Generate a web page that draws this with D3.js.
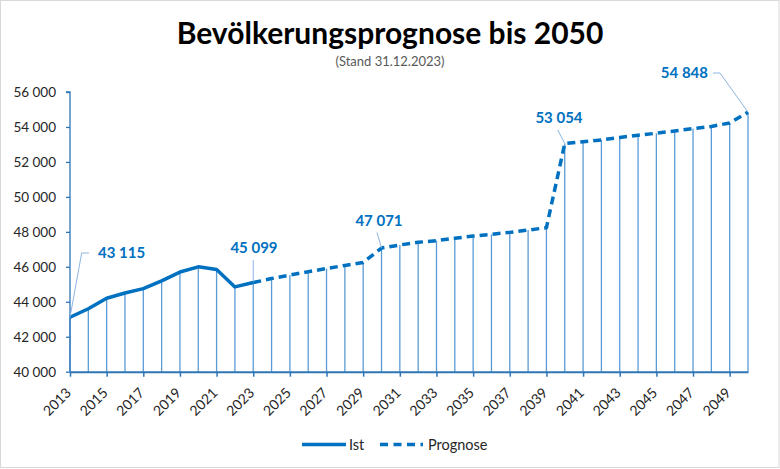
<!DOCTYPE html>
<html>
<head>
<meta charset="utf-8">
<script src="https://cdn.jsdelivr.net/npm/d3@7"></script>
<style>
  html, body { margin: 0; padding: 0; background: #fff; }
  svg { display: block; font-family: Lato, "Open Sans", sans-serif; }
</style>
</head>
<body>
<svg id="chart" width="780" height="469"></svg>
<script>
// ---- data ----
const title = "Bevölkerungsprognose bis 2050";
const subtitle = "(Stand 31.12.2023)";
const istYears = [2013, 2014, 2015, 2016, 2017, 2018, 2019, 2020, 2021, 2022, 2023];
const istValues = [43115, 43600, 44200, 44500, 44750, 45200, 45700, 46000, 45850, 44850, 45099];
const prognoseYears = [2023, 2024, 2025, 2026, 2027, 2028, 2029, 2030, 2031, 2032, 2033, 2034, 2035, 2036,
  2037, 2038, 2039, 2040, 2041, 2042, 2043, 2044, 2045, 2046, 2047, 2048, 2049, 2050];
const prognoseValues = [45099, 45330, 45530, 45720, 45900, 46080, 46250, 47071, 47250, 47400, 47500, 47630,
  47760, 47860, 47970, 48100, 48240, 53054, 53150, 53260, 53400, 53530, 53640, 53775, 53910, 54030, 54230, 54848];
const yTicks = [40000, 42000, 44000, 46000, 48000, 50000, 52000, 54000, 56000];
const xTickLabels = [2013, 2015, 2017, 2019, 2021, 2023, 2025, 2027, 2029, 2031, 2033, 2035, 2037, 2039,
  2041, 2043, 2045, 2047, 2049];
const annotatedYears = [2013, 2023, 2030, 2040, 2050];
const legendLabels = ["Ist", "Prognose"];

// ---- setup ----
const svg = d3.select("#chart");
const W = 780, H = 469;
const blue = "#0070c0";
const dropBlue = "#5b9bd5";
const axisBlue = "#2e75b6";
const leaderBlue = "#8db4e2";
const fmt = v => d3.format(",")(v).replace(/,/g, " ");

const x = d3.scaleLinear().domain([2013, 2050]).range([70, 748]);
const y = d3.scaleLinear().domain([40000, 56000]).range([371.7, 92]);

// border
svg.append("rect").attr("x", 0.5).attr("y", 0.5).attr("width", W - 1.5).attr("height", H - 2)
  .attr("fill", "#fff").attr("stroke", "#d9d9d9").attr("stroke-width", 1);

// title
svg.append("text").attr("x", 390).attr("y", 44).attr("text-anchor", "middle")
  .attr("font-size", 30).attr("font-weight", "bold").attr("fill", "#000").text(title);
svg.append("text").attr("x", 390).attr("y", 66).attr("text-anchor", "middle")
  .attr("font-size", 13).attr("fill", "#595959").text(subtitle);

// all points
const allPts = istYears.map((yr, i) => ({ year: yr, value: istValues[i] }))
  .concat(prognoseYears.slice(1).map((yr, i) => ({ year: yr, value: prognoseValues[i + 1] })));

// drop lines
svg.append("g").selectAll("line").data(allPts).join("line")
  .attr("x1", d => x(d.year)).attr("x2", d => x(d.year))
  .attr("y1", d => y(d.value)).attr("y2", y(40000))
  .attr("stroke", dropBlue).attr("stroke-width", 1.3);

// y axis
const yAxis = d3.axisLeft(y).tickValues(yTicks).tickFormat(fmt).tickSize(4).tickPadding(10);
const gy = svg.append("g").attr("transform", `translate(${x(2013)},0)`).call(yAxis);
gy.select(".domain").attr("stroke", axisBlue).attr("stroke-width", 1.3).attr("d", `M-4,${y(56000)}H0V${y(40000)}`);
gy.selectAll(".tick line").attr("stroke", axisBlue).attr("stroke-width", 1.3);
gy.selectAll(".tick text").attr("font-size", 13.5).attr("fill", "#262626")
  .attr("font-family", "Lato, sans-serif").attr("dx", 0);

// x axis (ticks + line via d3 axis, labels placed rotated)
const xAxis = d3.axisBottom(x).tickValues(xTickLabels).tickFormat("").tickSize(5).tickSizeOuter(0);
const gx = svg.append("g").attr("transform", `translate(0,${y(40000)})`).call(xAxis);
gx.select(".domain").attr("stroke", axisBlue).attr("stroke-width", 2);
gx.selectAll(".tick line").attr("stroke", axisBlue).attr("stroke-width", 1.5);
const labelY = y(40000) + 22;
svg.append("g").selectAll("text").data(xTickLabels).join("text")
  .attr("x", d => x(d) + 2).attr("y", labelY)
  .attr("transform", d => `rotate(-45,${x(d) + 2},${labelY})`)
  .attr("text-anchor", "end").attr("font-size", 14).attr("fill", "#262626")
  .text(d => String(d));

// lines
const line = d3.line().x(d => x(d[0])).y(d => y(d[1]));
svg.append("path").datum(istYears.map((yr, i) => [yr, istValues[i]]))
  .attr("d", line).attr("fill", "none").attr("stroke", blue).attr("stroke-width", 3.5)
  .attr("stroke-linejoin", "round");
svg.append("path").datum(prognoseYears.map((yr, i) => [yr, prognoseValues[i]]))
  .attr("d", line).attr("fill", "none").attr("stroke", blue).attr("stroke-width", 3.5)
  .attr("stroke-dasharray", "8,5").attr("stroke-linejoin", "round");

// annotations
const valueOf = yr => allPts.find(p => p.year === yr).value;
const annLayout = {
  2013: { tx: 98, ty: 253, anchor: "start", path: (px, py) => `M${px},${py}L${px + 11.7},253H${px + 19}` },
  2023: { tx: 254, ty: 248, anchor: "middle", path: (px, py) => `M${px},260V${py - 1}` },
  2030: { tx: 379, ty: 221, anchor: "middle", path: (px, py) => `M${px - 4.5},232.5L${px},${py}` },
  2040: { tx: 559, ty: 118, anchor: "middle", path: (px, py) => `M${px - 7},130L${px},${py}` },
  2050: { tx: 708, ty: 73, anchor: "end", path: (px, py) => `M${px - 35},73H${px - 28}L${px},${py}` }
};
const ga = svg.append("g");
annotatedYears.forEach(yr => {
  const v = valueOf(yr), L = annLayout[yr];
  const px = x(yr), py = y(v);
  ga.append("path").attr("d", L.path(px, py)).attr("fill", "none")
    .attr("stroke", leaderBlue).attr("stroke-width", 1);
  ga.append("text").attr("x", L.tx).attr("y", L.ty).attr("dy", "0.35em")
    .attr("text-anchor", L.anchor).attr("font-size", 15).attr("font-weight", "bold")
    .attr("fill", blue).text(fmt(v));
});

// legend
const gl = svg.append("g");
gl.append("line").attr("x1", 302).attr("x2", 346).attr("y1", 444.5).attr("y2", 444.5)
  .attr("stroke", blue).attr("stroke-width", 3.5);
gl.append("text").attr("x", 349).attr("y", 444.5).attr("dy", "0.35em")
  .attr("font-size", 14.5).attr("fill", "#262626").text(legendLabels[0]);
gl.append("line").attr("x1", 380).attr("x2", 423).attr("y1", 444.5).attr("y2", 444.5)
  .attr("stroke", blue).attr("stroke-width", 3.5).attr("stroke-dasharray", "8,5.5");
gl.append("text").attr("x", 428).attr("y", 444.5).attr("dy", "0.35em")
  .attr("font-size", 14.5).attr("fill", "#262626").text(legendLabels[1]);
</script>
</body>
</html>
